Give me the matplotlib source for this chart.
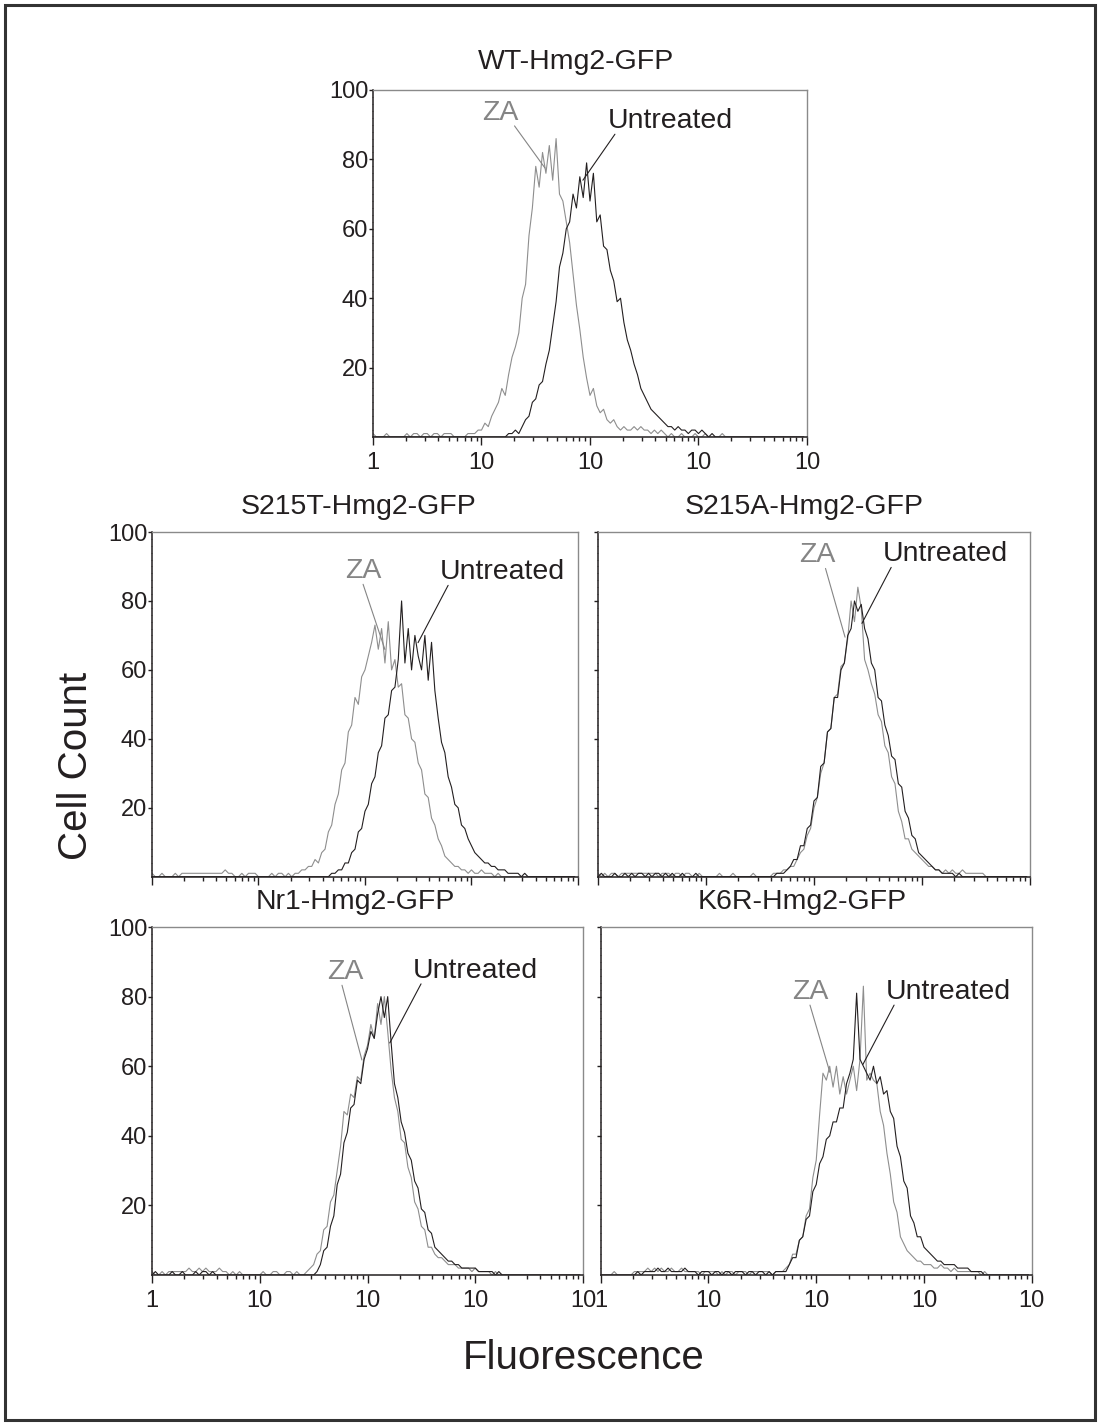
import numpy as np
import matplotlib.pyplot as plt
from matplotlib.patches import Rectangle
from matplotlib.ticker import FixedLocator, LogLocator, NullFormatter, MultipleLocator

plt.rcParams['font.family'] = ['Liberation Sans', 'DejaVu Sans']

# 128 log channels, 32 per decade (1 .. 10^4)
channels = np.arange(128)
fluor = 10 ** (channels / 32)

# cell counts per channel
wt_za = [1, 0, 0, 0, 1, 0, 0, 0, 0, 0, 1, 0, 1, 1, 0, 1,
         1, 0, 1, 1, 0, 1, 1, 1, 0, 0, 0, 0, 1, 1, 1, 2,
         2, 4, 3, 6, 8, 10, 14, 12, 18, 23, 26, 30, 40, 44, 58, 66,
         78, 72, 82, 76, 84, 74, 86, 70, 68, 62, 56, 47, 38, 31, 23, 17,
         12, 14, 9, 7, 8, 5, 4, 5, 3, 2, 3, 2, 2, 3, 2, 3,
         2, 2, 1, 2, 1, 2, 1, 0, 1, 0, 0, 1, 0, 0, 0, 1,
         0, 0, 1, 0, 0, 0, 0, 1, 0, 0, 0, 0, 0, 0, 0, 0,
         0, 0, 0, 0, 0, 0, 0, 0, 0, 0, 0, 0, 0, 0, 0, 0]
wt_untreated = [0, 0, 0, 0, 0, 0, 0, 0, 0, 0, 0, 0, 0, 0, 0, 0,
                0, 0, 0, 0, 0, 0, 0, 0, 0, 0, 0, 0, 0, 0, 0, 0,
                0, 0, 0, 0, 0, 0, 0, 0, 1, 1, 2, 1, 3, 5, 6, 10,
                11, 15, 16, 21, 25, 32, 39, 49, 53, 60, 62, 70, 66, 75, 69, 79,
                68, 76, 62, 64, 55, 54, 48, 45, 39, 40, 33, 28, 25, 21, 18, 14,
                12, 10, 8, 7, 6, 5, 4, 3, 3, 2, 3, 2, 2, 1, 2, 2,
                1, 2, 1, 0, 1, 0, 0, 0, 0, 0, 0, 0, 0, 0, 0, 0,
                0, 0, 0, 0, 0, 0, 0, 0, 0, 0, 0, 0, 0, 0, 0, 0]

s215t_za = [1, 0, 0, 1, 0, 0, 0, 1, 0, 1, 1, 1, 1, 1, 1, 1,
            1, 1, 1, 1, 1, 1, 2, 1, 1, 0, 0, 1, 0, 1, 1, 1,
            0, 0, 0, 0, 1, 0, 1, 1, 0, 1, 0, 1, 1, 2, 2, 3,
            3, 5, 4, 7, 8, 13, 15, 21, 24, 31, 33, 42, 44, 52, 50, 58,
            60, 64, 68, 73, 66, 72, 62, 74, 60, 63, 55, 56, 47, 46, 40, 39,
            33, 31, 24, 23, 17, 15, 11, 9, 6, 5, 4, 3, 3, 2, 2, 1,
            2, 1, 1, 2, 1, 1, 1, 0, 1, 0, 0, 0, 0, 0, 0, 0,
            0, 0, 0, 0, 0, 0, 0, 0, 0, 0, 0, 0, 0, 0, 0, 0]
s215t_untreated = [0, 0, 0, 0, 0, 0, 0, 0, 0, 0, 0, 0, 0, 0, 0, 0,
                   0, 0, 0, 0, 0, 0, 0, 0, 0, 0, 0, 0, 0, 0, 0, 0,
                   0, 0, 0, 0, 0, 0, 0, 0, 0, 0, 0, 0, 0, 0, 0, 0,
                   0, 0, 0, 0, 0, 0, 1, 1, 2, 2, 4, 4, 7, 8, 13, 14,
                   19, 21, 27, 29, 36, 38, 46, 47, 54, 55, 63, 80, 62, 72, 60, 70,
                   64, 60, 70, 57, 68, 54, 46, 39, 36, 29, 26, 21, 20, 15, 14, 11,
                   9, 7, 6, 5, 4, 4, 3, 3, 2, 2, 2, 1, 1, 1, 1, 0,
                   1, 0, 0, 0, 0, 0, 0, 0, 0, 0, 0, 0, 0, 0, 0, 0]

s215a_za = [1, 0, 1, 0, 1, 1, 0, 1, 1, 1, 1, 1, 1, 1, 1, 1,
            1, 1, 0, 1, 1, 1, 0, 1, 1, 0, 1, 1, 0, 0, 1, 0,
            0, 0, 0, 0, 1, 0, 0, 0, 1, 0, 0, 0, 0, 0, 1, 0,
            0, 0, 0, 0, 1, 1, 1, 2, 2, 3, 3, 5, 7, 8, 12, 14,
            20, 23, 30, 33, 42, 43, 52, 53, 61, 62, 69, 80, 74, 84, 78, 63,
            60, 56, 53, 47, 45, 38, 36, 29, 27, 19, 16, 11, 11, 8, 7, 6,
            5, 4, 3, 3, 2, 2, 1, 2, 1, 2, 1, 1, 2, 1, 1, 1,
            1, 1, 1, 0, 0, 0, 0, 0, 0, 0, 0, 0, 0, 0, 0, 0]
s215a_untreated = [0, 1, 0, 0, 0, 1, 0, 0, 1, 0, 1, 0, 1, 1, 0, 1,
                   0, 1, 1, 0, 1, 0, 1, 0, 0, 1, 0, 0, 0, 1, 0, 0,
                   0, 0, 0, 0, 0, 0, 0, 0, 0, 0, 0, 0, 0, 0, 0, 0,
                   0, 0, 0, 0, 0, 1, 1, 1, 2, 3, 5, 5, 9, 9, 14, 15,
                   22, 23, 32, 33, 42, 43, 52, 52, 60, 62, 70, 72, 80, 77, 79, 72,
                   69, 62, 60, 52, 51, 44, 41, 35, 34, 27, 26, 19, 17, 12, 11, 7,
                   6, 5, 4, 3, 2, 2, 1, 1, 1, 1, 0, 1, 0, 0, 0, 0,
                   0, 0, 0, 0, 0, 0, 0, 0, 0, 0, 0, 0, 0, 0, 0, 0]

nr1_za = [1, 0, 0, 1, 0, 1, 1, 1, 1, 1, 1, 2, 1, 1, 2, 1,
          2, 1, 1, 1, 2, 1, 1, 0, 1, 0, 1, 0, 0, 0, 0, 0,
          0, 1, 0, 0, 1, 1, 0, 0, 1, 1, 0, 1, 0, 0, 1, 2,
          3, 6, 7, 13, 14, 21, 23, 30, 37, 47, 46, 52, 51, 57, 56, 63,
          66, 72, 68, 78, 72, 80, 70, 59, 51, 47, 39, 38, 31, 28, 21, 19,
          14, 13, 8, 8, 6, 5, 5, 4, 3, 3, 3, 2, 2, 2, 2, 1,
          2, 1, 1, 1, 1, 0, 1, 0, 0, 0, 0, 0, 0, 0, 0, 0,
          0, 0, 0, 0, 0, 0, 0, 0, 0, 0, 0, 0, 0, 0, 0, 0]
nr1_untreated = [0, 1, 0, 0, 0, 0, 1, 0, 0, 1, 0, 0, 0, 1, 0, 1,
                 1, 0, 1, 0, 0, 0, 0, 0, 0, 0, 0, 0, 0, 0, 0, 0,
                 0, 0, 0, 0, 0, 0, 0, 0, 0, 0, 0, 0, 0, 0, 0, 0,
                 0, 1, 3, 7, 8, 14, 17, 26, 29, 38, 41, 48, 49, 56, 55, 62,
                 65, 70, 68, 75, 80, 74, 80, 67, 55, 51, 44, 41, 35, 33, 27, 25,
                 19, 18, 13, 12, 8, 7, 6, 5, 4, 4, 3, 3, 2, 2, 2, 2,
                 2, 1, 1, 1, 1, 1, 0, 1, 0, 0, 0, 0, 0, 0, 0, 0,
                 0, 0, 0, 0, 0, 0, 0, 0, 0, 0, 0, 0, 0, 0, 0, 0]

k6r_za = [0, 0, 0, 0, 1, 0, 0, 0, 0, 0, 1, 1, 1, 1, 2, 1,
          2, 1, 2, 1, 1, 2, 1, 1, 2, 1, 1, 1, 1, 1, 0, 1,
          1, 1, 1, 0, 1, 0, 1, 1, 0, 1, 1, 1, 0, 1, 1, 1,
          1, 1, 1, 0, 1, 1, 1, 2, 3, 6, 6, 10, 11, 17, 19, 28,
          33, 46, 58, 56, 60, 54, 60, 52, 57, 52, 56, 60, 53, 62, 83, 56,
          58, 56, 55, 47, 43, 35, 29, 21, 18, 11, 9, 7, 6, 5, 4, 4,
          3, 3, 3, 2, 2, 3, 2, 2, 1, 2, 1, 1, 1, 1, 1, 1,
          1, 0, 1, 0, 0, 0, 0, 0, 0, 0, 0, 0, 0, 0, 0, 0]
k6r_untreated = [0, 0, 0, 0, 0, 0, 0, 0, 0, 0, 0, 1, 0, 1, 1, 1,
                 1, 2, 1, 1, 2, 1, 1, 1, 1, 2, 1, 1, 1, 0, 1, 1,
                 1, 0, 1, 1, 0, 1, 1, 0, 1, 1, 1, 0, 1, 1, 0, 1,
                 1, 0, 1, 0, 1, 1, 1, 1, 3, 5, 5, 10, 11, 16, 17, 24,
                 26, 32, 34, 39, 40, 44, 44, 48, 48, 55, 58, 62, 81, 62, 60, 58,
                 56, 60, 55, 57, 52, 53, 47, 45, 37, 34, 27, 25, 17, 15, 11, 11,
                 8, 7, 6, 5, 4, 4, 3, 3, 3, 3, 2, 2, 2, 2, 1, 1,
                 1, 1, 0, 0, 0, 0, 0, 0, 0, 0, 0, 0, 0, 0, 0, 0]

titles = ['WT-Hmg2-GFP', 'S215T-Hmg2-GFP', 'S215A-Hmg2-GFP',
          'Nr1-Hmg2-GFP', 'K6R-Hmg2-GFP']
za_series = [wt_za, s215t_za, s215a_za, nr1_za, k6r_za]
untreated_series = [wt_untreated, s215t_untreated, s215a_untreated,
                    nr1_untreated, k6r_untreated]
x_labels = ['1', '10', '10', '10', '10']
y_ticks = [20, 40, 60, 80, 100]

BLACK = '#231f20'
GRAY = '#8e8e8e'

# panel layout (left, bottom, width, height), title x (axes frac), label spots
layout = [
    dict(rect=[0.3394, 0.6931, 0.3949, 0.2437], tx=0.468, ty=20, ylab=True, xlab=True,
         za=((14.8, 93.4), (38.5, 77.5), 0.9), un=((546, 91), (86, 74), 0.06)),
    dict(rect=[0.1383, 0.3843, 0.3876, 0.2421], tx=0.486, ty=18, ylab=True, xlab=False,
         za=((96, 88.6), (154, 65.9), 0.5), un=((1932, 88.3), (315, 67.9), 0.07)),
    dict(rect=[0.5441, 0.3843, 0.3931, 0.2421], tx=0.477, ty=18, ylab=False, xlab=False,
         za=((107, 93.2), (194, 69.5), 0.73), un=((1633, 93.5), (278, 73.5), 0.07)),
    dict(rect=[0.1383, 0.1046, 0.3922, 0.2444], tx=0.471, ty=18, ylab=True, xlab=True,
         za=((61.7, 87), (88.7, 61.8), 0.42), un=((991, 87.4), (161, 66.7), 0.07)),
    dict(rect=[0.5466, 0.1046, 0.3922, 0.2444], tx=0.468, ty=18, ylab=False, xlab=True,
         za=((87.5, 81.3), (134, 58.2), 0.5), un=((1667, 81.3), (271, 60.5), 0.07)),
]

fig = plt.figure(figsize=(10.99, 14.24), dpi=100)

for title, za, un, lay in zip(titles, za_series, untreated_series, layout):
    ax = fig.add_axes(lay['rect'])
    ax.plot(fluor, za, color=GRAY, lw=0.8)
    ax.plot(fluor, un, color=BLACK, lw=0.8)
    ax.set_xscale('log')
    ax.set_xlim(1, 1e4)
    ax.set_ylim(0, 100)

    ax.xaxis.set_major_locator(FixedLocator([1, 10, 100, 1000, 10000]))
    ax.xaxis.set_minor_locator(LogLocator(base=10, subs=range(2, 10), numticks=20))
    ax.xaxis.set_minor_formatter(NullFormatter())
    if lay['xlab']:
        ax.set_xticklabels(x_labels)
    else:
        ax.xaxis.set_major_formatter(NullFormatter())
    ax.yaxis.set_major_locator(FixedLocator(y_ticks))
    ax.yaxis.set_minor_locator(MultipleLocator(2))
    if lay['ylab']:
        ax.set_yticklabels([str(v) for v in y_ticks])
    else:
        ax.yaxis.set_major_formatter(NullFormatter())

    ax.tick_params(axis='x', which='major', direction='out', length=6, width=1,
                   pad=5, labelsize=17, colors=BLACK)
    ax.tick_params(axis='x', which='minor', direction='out', length=3, width=1, colors=BLACK)
    ax.tick_params(axis='y', which='major', direction='out', length=3, width=1,
                   pad=0.5, labelsize=17, colors=BLACK)
    ax.tick_params(axis='y', which='minor', direction='out', length=1, width=0.6, colors='#666666')

    for side in ['left', 'bottom']:
        ax.spines[side].set_color(BLACK)
        ax.spines[side].set_linewidth(1.1)
    for side in ['top', 'right']:
        ax.spines[side].set_color('#8a8a8a')
        ax.spines[side].set_linewidth(1.0)

    ax.annotate(title, xy=(lay['tx'], 1), xycoords='axes fraction',
                xytext=(0, lay['ty']), textcoords='offset points',
                ha='center', va='center', fontsize=20.5, color=BLACK)

    (tpos, xy, rx) = lay['za']
    ax.annotate('ZA', xy=xy, xytext=tpos, ha='center', va='center',
                fontsize=20.5, color='#858585',
                arrowprops=dict(arrowstyle='-', color='#858585', lw=0.8,
                                shrinkA=0, shrinkB=0, patchA=None, relpos=(rx, 0)))
    (tpos, xy, rx) = lay['un']
    ax.annotate('Untreated', xy=xy, xytext=tpos, ha='center', va='center',
                fontsize=20.5, color=BLACK,
                arrowprops=dict(arrowstyle='-', color=BLACK, lw=0.8,
                                shrinkA=0, shrinkB=0, patchA=None, relpos=(rx, 0)))

fig.text(76 / 1099, 1 - 766 / 1424, 'Cell Count', rotation=90, ha='center',
         va='center', fontsize=29, color=BLACK)
fig.text(584 / 1099, 1 - 1358 / 1424, 'Fluorescence', ha='center',
         va='center', fontsize=29, color=BLACK)

# frame round the whole figure
fig.patches.append(Rectangle((4.5 / 1099, 4.5 / 1424), 1090.5 / 1099, 1414.5 / 1424,
                             transform=fig.transFigure, fill=False,
                             edgecolor='#333333', linewidth=2.2))

fig.savefig('out.png', dpi=100)
